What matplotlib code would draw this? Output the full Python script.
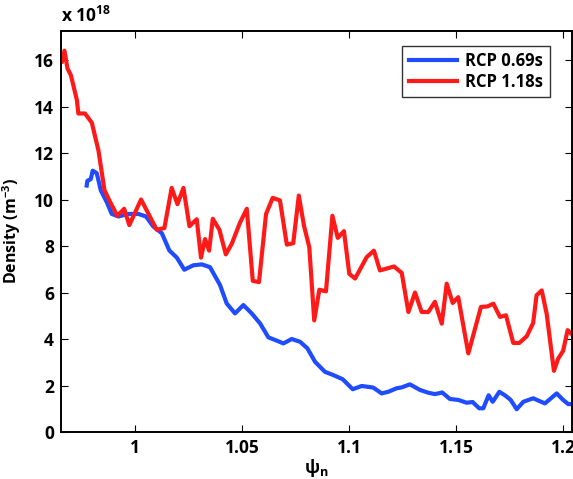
import matplotlib
matplotlib.use("Agg")
import matplotlib.pyplot as plt

plt.rcParams['font.family'] = ['Open Sans', 'DejaVu Sans']
plt.rcParams['font.weight'] = 'bold'
plt.rcParams['mathtext.fontset'] = 'custom'
plt.rcParams['mathtext.rm'] = 'Open Sans:bold'
plt.rcParams['mathtext.it'] = 'Open Sans:bold'
plt.rcParams['mathtext.bf'] = 'Open Sans:bold'

# RCP 0.69s (density in units of 1e18 m^-3)
psi_069 = [0.9774, 0.9777, 0.9793, 0.9802, 0.9821, 0.9840, 0.9868, 0.9891, 0.9922, 0.9969,
           1.0015, 1.0051, 1.0085, 1.0125, 1.0160, 1.0195, 1.0230, 1.0272, 1.0312, 1.0350,
           1.0397, 1.0428, 1.0467, 1.0506, 1.0545, 1.0584, 1.0623, 1.0662, 1.0693, 1.0732,
           1.0771, 1.0805, 1.0841, 1.0887, 1.0926, 1.0970, 1.1017, 1.1059, 1.1113, 1.1152,
           1.1183, 1.1222, 1.1246, 1.1284, 1.1331, 1.1370, 1.1401, 1.1435, 1.1471, 1.1510,
           1.1549, 1.1577, 1.1608, 1.1627, 1.1652, 1.1671, 1.1702, 1.1728, 1.1755, 1.1783,
           1.1814, 1.1860, 1.1915, 1.1970, 1.2000, 1.2024, 1.2046]
ne_069 = [10.6, 10.8, 10.88, 11.24, 11.13, 10.39, 9.88, 9.38, 9.27, 9.38,
          9.38, 9.27, 8.84, 8.55, 7.81, 7.5, 6.98, 7.17, 7.21, 7.09,
          6.32, 5.53, 5.1, 5.46, 5.1, 4.67, 4.07, 3.93, 3.81, 4.0,
          3.88, 3.6, 3.02, 2.59, 2.45, 2.27, 1.84, 1.98, 1.91, 1.66,
          1.73, 1.88, 1.92, 2.05, 1.81, 1.69, 1.63, 1.70, 1.42, 1.38,
          1.26, 1.29, 1.02, 1.02, 1.58, 1.30, 1.73, 1.58, 1.38, 0.98,
          1.30, 1.45, 1.23, 1.66, 1.38, 1.20, 1.20]

# RCP 1.18s
psi_118 = [0.9658, 0.9670, 0.9684, 0.9700, 0.9728, 0.9735, 0.9766, 0.9798, 0.9829, 0.9857,
           0.9883, 0.9917, 0.9949, 0.9973, 1.0028, 1.0101, 1.0137, 1.0171, 1.0198, 1.0226,
           1.0254, 1.0288, 1.0308, 1.0327, 1.0346, 1.0363, 1.0394, 1.0424, 1.0452, 1.0490,
           1.0522, 1.0550, 1.0579, 1.0612, 1.0643, 1.0677, 1.0709, 1.0739, 1.0765, 1.0789,
           1.0814, 1.0837, 1.0861, 1.0892, 1.0922, 1.0947, 1.0976, 1.1001, 1.1028, 1.1082,
           1.1116, 1.1144, 1.1210, 1.1246, 1.1277, 1.1308, 1.1339, 1.1370, 1.1401, 1.1433,
           1.1456, 1.1484, 1.1510, 1.1557, 1.1616, 1.1646, 1.1674, 1.1705, 1.1733, 1.1767,
           1.1795, 1.1830, 1.1860, 1.1876, 1.1900, 1.1923, 1.1957, 1.1977, 1.2000, 1.2021,
           1.2046]
ne_118 = [15.93, 16.4, 15.64, 15.35, 14.28, 13.7, 13.7, 13.3, 12.1, 10.4,
          9.9, 9.3, 9.6, 8.9, 10.0, 8.7, 8.77, 10.5, 9.8, 10.5,
          8.85, 9.15, 7.5, 8.3, 7.8, 9.17, 8.7, 7.64, 8.1, 9.0,
          9.6, 6.5, 6.45, 9.38, 10.07, 9.96, 8.06, 8.12, 10.17, 8.88,
          7.95, 4.8, 6.12, 6.05, 9.3, 8.35, 8.64, 6.8, 6.6, 7.52,
          7.8, 6.95, 7.12, 6.84, 5.16, 6.0, 5.16, 5.16, 5.6, 4.66,
          6.38, 5.55, 5.8, 3.38, 5.38, 5.4, 5.52, 4.95, 5.02, 3.83,
          3.83, 4.12, 4.69, 5.88, 6.09, 5.09, 2.63, 3.16, 3.49, 4.38,
          4.16]

xticks = [1, 1.05, 1.1, 1.15, 1.2]
xticklabels = ['1', '1.05', '1.1', '1.15', '1.2']
yticks = [0, 2, 4, 6, 8, 10, 12, 14, 16]

fig = plt.figure(figsize=(5.73, 4.79), dpi=100)
ax = fig.add_axes([0.1065, 0.0981, 0.8912, 0.8378])

ax.plot(psi_069, ne_069, color='#1f4cff', lw=3.0, label='RCP 0.69s', solid_joinstyle='round')
ax.plot(psi_118, ne_118, color='#ff1a1a', lw=3.0, label='RCP 1.18s', solid_joinstyle='round')

ax.set_xlim(0.9654, 1.204)
ax.set_ylim(0, 17.26)
ax.set_xticks(xticks)
ax.set_xticklabels(xticklabels)
ax.set_yticks(yticks)
ax.tick_params(direction='in', top=True, right=True, length=5, width=0.8,
               labelsize=12.5, pad=5)
for lab in ax.get_xticklabels() + ax.get_yticklabels():
    lab.set_fontweight('bold')
for s in ax.spines.values():
    s.set_linewidth(1.4)

ax.set_xlabel(r'$\psi_n$', fontsize=13, labelpad=0)
ax.set_ylabel(r'Density (m$^{-3}$)', fontsize=11.5, fontweight='bold', labelpad=8)
ax.text(0.0, 1.012, r'x 10$^{18}$', transform=ax.transAxes, fontsize=12.5,
        fontweight='bold', ha='left', va='bottom')

leg = ax.legend(loc='upper right', bbox_to_anchor=(0.9575, 0.963), borderaxespad=0,
                fontsize=12, frameon=True, fancybox=False, edgecolor='black',
                handlelength=2.9, borderpad=0.4, labelspacing=0.15, handletextpad=0.5)
leg.get_frame().set_linewidth(1.0)
for t in leg.get_texts():
    t.set_fontweight('bold')

fig.savefig('out.png', dpi=100)
